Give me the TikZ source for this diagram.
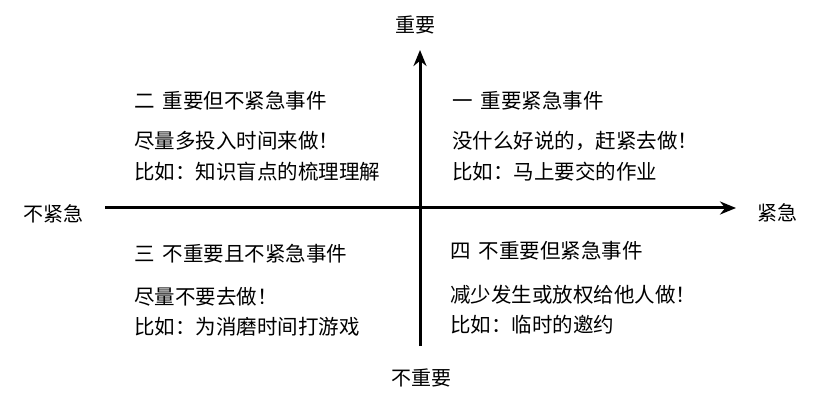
\documentclass[tikz,border=0pt]{standalone}
\usepackage{fontspec}
\setmainfont{Noto Sans CJK SC}
\usetikzlibrary{arrows.meta}
\begin{document}
\begin{tikzpicture}[x=1pt,y=-1pt,
  lbl/.style={inner sep=0pt,font=\fontsize{20}{20}\selectfont},
  txt/.style={inner sep=0pt,anchor=west,font=\fontsize{20.5}{20.5}\selectfont},
  ttl/.style={inner sep=0pt,anchor=west,font=\fontsize{20.5}{20.5}\selectfont},
  axis/.style={line width=3pt,-{Stealth[length=16pt,width=13pt]}}]
\fill[white] (0,0) rectangle (821,403);
\useasboundingbox (0,0) rectangle (821,403);
\coordinate (hl) at (105,208);
\coordinate (hr) at (736,208);
\coordinate (vb) at (420,346);
\coordinate (vt) at (420,50);
\draw[axis] (hl) -- (hr);
\draw[axis] (vb) -- (vt);
\node[lbl] (top) at (415,25) {重要};
\node[lbl] (bot) at (421,378) {不重要};
\node[lbl] (lft) at (53,214) {不紧急};
\node[lbl] (rgt) at (777,213) {紧急};
\node[ttl] (q2) at (134,101) {二\hspace{8pt}重要但不紧急事件};
\node[txt] (q2a) at (134,141) {尽量多投入时间来做！};
\node[txt] (q2b) at (134,172) {比如：知识盲点的梳理理解};
\node[ttl] (q1) at (452,101) {一\hspace{8pt}重要紧急事件};
\node[txt] (q1a) at (452,141) {没什么好说的，赶紧去做！};
\node[txt] (q1b) at (452,172) {比如：马上要交的作业};
\node[ttl] (q3) at (134,254) {三\hspace{8pt}不重要且不紧急事件};
\node[txt] (q3a) at (134,297) {尽量不要去做！};
\node[txt] (q3b) at (134,327) {比如：为消磨时间打游戏};
\node[ttl] (q4) at (450,251) {四\hspace{8pt}不重要但紧急事件};
\node[txt] (q4a) at (450,295) {减少发生或放权给他人做！};
\node[txt] (q4b) at (450,325) {比如：临时的邀约};
\end{tikzpicture}
\end{document}
